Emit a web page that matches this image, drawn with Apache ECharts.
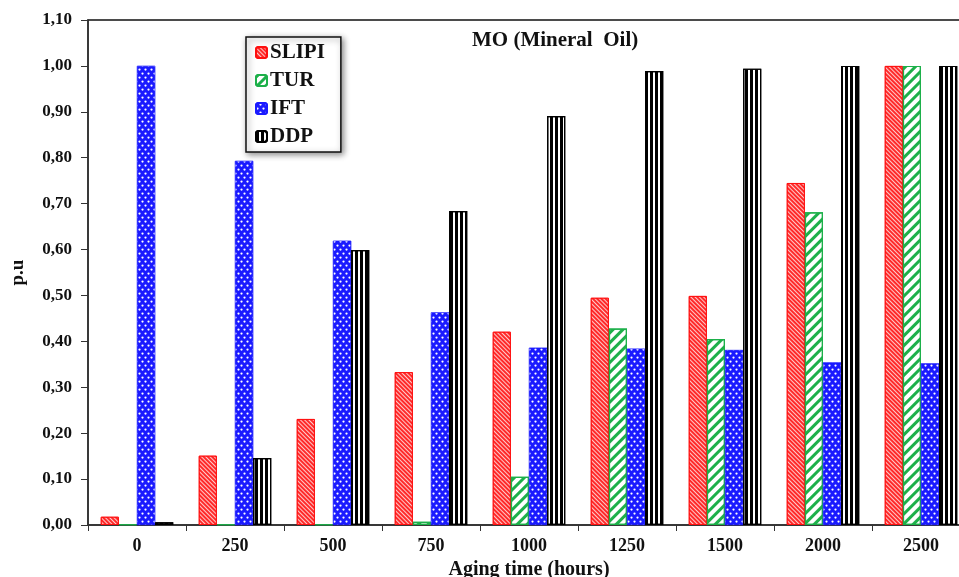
<!DOCTYPE html>
<html><head><meta charset="utf-8">
<script src="https://cdn.jsdelivr.net/npm/echarts@6/dist/echarts.min.js"></script>
<style>html,body{margin:0;padding:0;background:#fff}#c{width:959px;height:577px}</style>
</head><body><div id="c"></div>
<script>
const categories = ['0','250','500','750','1000','1250','1500','2000','2500'];
const slipi = [0.018, 0.151, 0.231, 0.333, 0.421, 0.495, 0.499, 0.745, 1.00];
const tur   = [0.001, 0.001, 0.001, 0.007, 0.105, 0.428, 0.405, 0.681, 1.00];
const ift   = [1.00, 0.793, 0.619, 0.463, 0.386, 0.384, 0.381, 0.354, 0.352];
const ddp   = [0.006, 0.146, 0.599, 0.684, 0.891, 0.989, 0.994, 1.00, 1.00];
const yTicks = [0,0.1,0.2,0.3,0.4,0.5,0.6,0.7,0.8,0.9,1.0,1.1];

const F = 'Liberation Serif, Times New Roman, serif';
const chart = echarts.init(document.getElementById('c'), null, {renderer:'canvas'});
chart.setOption({
  animation:false,
  backgroundColor:'#fff',
  title:{text:'MO (Mineral  Oil)', left:467, top:25, textStyle:{fontFamily:F, fontWeight:'bold', fontSize:21, color:'#111'}},
  legend:{orient:'vertical', left:246, top:37, padding:[5,16,5,9], itemGap:7, itemWidth:11, itemHeight:11,
    borderColor:'#111', borderWidth:1.5, backgroundColor:'#fff', shadowBlur:6, shadowColor:'rgba(0,0,0,0.45)', shadowOffsetX:2, shadowOffsetY:2,
    textStyle:{fontFamily:F, fontWeight:'bold', fontSize:21, color:'#111', padding:[0,0,0,-2]},
    data:['SLIPI','TUR','IFT','DDP']},
  grid:{left:88, right:-11, top:20, bottom:52, show:true, borderColor:'#111', borderWidth:1.5, outerBoundsMode:'none', containLabel:false},
  xAxis:{type:'category', data:categories, name:'Aging time (hours)', nameLocation:'middle', nameGap:26,
    nameTextStyle:{fontFamily:F, fontWeight:'bold', fontSize:20, color:'#111', padding:[0,0,0,0]},
    axisLine:{lineStyle:{color:'#333', width:1.5}}, axisTick:{show:true, length:6, lineStyle:{color:'#333'}},
    axisLabel:{fontFamily:F, fontWeight:'bold', fontSize:18, color:'#111', margin:12}},
  yAxis:{type:'value', min:0, max:1.1, interval:0.1, name:'p.u', nameLocation:'middle', nameGap:60,
    nameTextStyle:{fontFamily:F, fontWeight:'bold', fontSize:19, color:'#111'},
    splitLine:{show:false},
    axisLine:{show:true, lineStyle:{color:'#333', width:1.5}}, axisTick:{show:true, length:7, lineStyle:{color:'#333'}},
    axisLabel:{fontFamily:F, fontWeight:'bold', fontSize:17, color:'#111', margin:16,
      formatter:v=>{const t=yTicks.find(x=>Math.abs(x-v)<1e-6); return (t===undefined?v:t).toFixed(2).replace('.',',');}}},
  series:[
    {name:'SLIPI', type:'bar', data:slipi, barGap:'0%', barCategoryGap:'26%',
     itemStyle:{color:'#ff2a2a', borderColor:'#ff1010', borderWidth:1,
       decal:{symbol:'rect', color:'rgba(255,255,255,0.75)', dashArrayX:[1,0], dashArrayY:[1,2], rotation:Math.PI/4}}},
    {name:'TUR', type:'bar', data:tur,
     itemStyle:{color:'#ffffff', borderColor:'#1db04a', borderWidth:1.2,
       decal:{symbol:'rect', color:'#1db04a', dashArrayX:[1,0], dashArrayY:[2.2,3.8], rotation:-Math.PI/4}}},
    {name:'IFT', type:'bar', data:ift,
     itemStyle:{color:'#1a1aff', borderColor:'#1a1aff', borderWidth:0.5,
       decal:{symbol:'circle', color:'#ffffff', symbolSize:0.75, dashArrayX:[[2.5,2.5],[0,2.5,2.5,0]], dashArrayY:[2.5,0.5]}}},
    {name:'DDP', type:'bar', data:ddp,
     itemStyle:{color:'#ffffff', borderColor:'#000', borderWidth:1.2,
       decal:{symbol:'rect', color:'#000', dashArrayX:[2.5,2], dashArrayY:[1,0]}}}
  ]
});
</script></body></html>
